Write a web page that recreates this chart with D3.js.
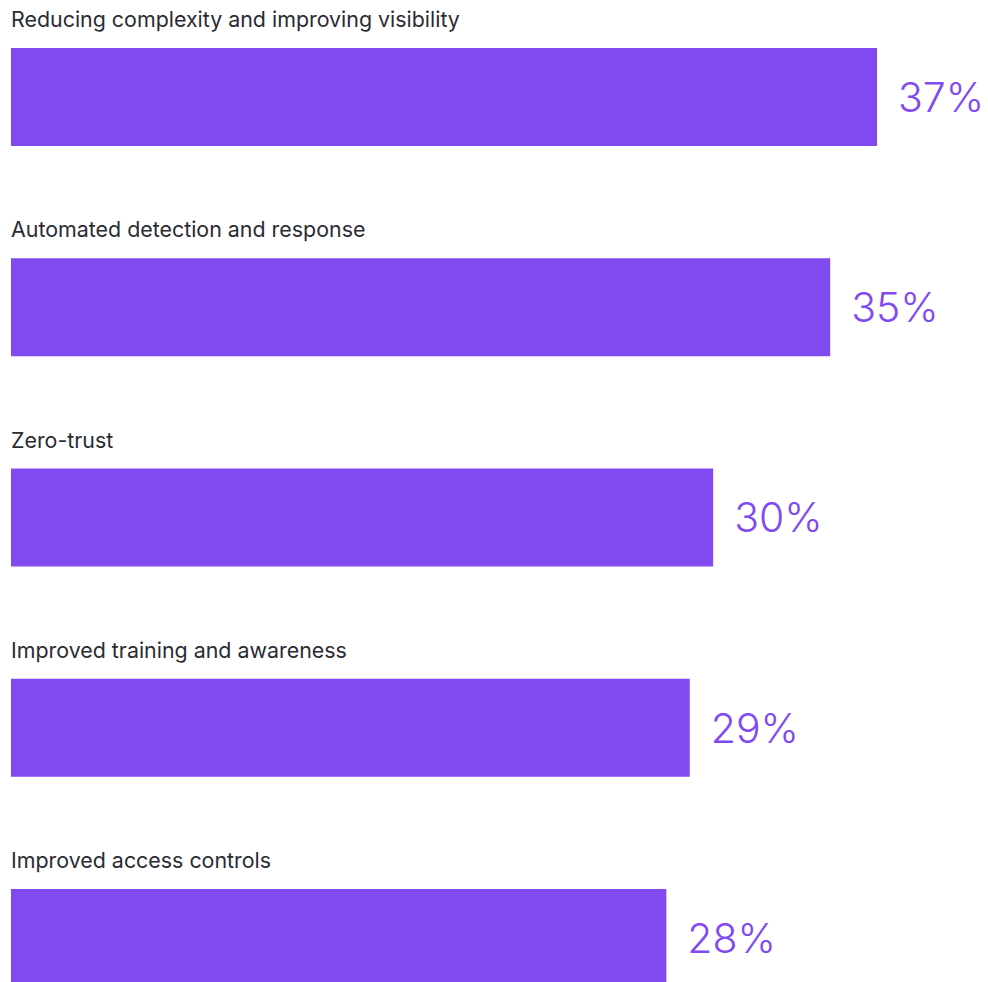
<!DOCTYPE html>
<html>
<head>
<meta charset="utf-8">
<script src="https://cdn.jsdelivr.net/npm/d3@7"></script>
<style>
  html, body { margin: 0; padding: 0; background: #ffffff; overflow: hidden; }
  svg { display: block; }
</style>
</head>
<body>
<div id="chart"></div>
<script>
// Security priorities, share of respondents (%)
const categories = [
  "Reducing complexity and improving visibility",
  "Automated detection and response",
  "Zero-trust",
  "Improved training and awareness",
  "Improved access controls"
];
const values = [37, 35, 30, 29, 28];

const width = 988, height = 982;
const barColor = "#814af0";
const labelColor = "#2b2b33";

const svg = d3.select("#chart").append("svg")
  .attr("width", width)
  .attr("height", height);

const left = 11;
const x = d3.scaleLinear().domain([0, 37]).range([left, 877]);

// row pitch 210.25px, bar thickness 98px
const pitch = 210.25, barH = 98;
const y = d3.scaleBand()
  .domain(categories)
  .range([48, 48 + pitch * (categories.length - 1) + barH])
  .paddingInner((pitch - barH) / pitch)
  .paddingOuter(0)
  .align(0);

const rows = svg.selectAll("g.row")
  .data(categories.map((c, i) => ({ category: c, value: values[i] })))
  .join("g")
  .attr("class", "row");

rows.append("rect")
  .attr("x", x(0))
  .attr("y", d => y(d.category))
  .attr("width", d => x(d.value) - x(0))
  .attr("height", y.bandwidth())
  .attr("fill", barColor);

rows.append("text")
  .attr("x", left)
  .attr("y", d => y(d.category) - 21)
  .attr("font-family", "Inter, 'Noto Sans', sans-serif")
  .attr("font-size", 21.4)
  .attr("fill", labelColor)
  .text(d => d.category);

rows.append("text")
  .attr("x", d => x(d.value) + 21)
  .attr("y", d => y(d.category) + y.bandwidth() / 2)
  .attr("dy", "0.36em")
  .attr("font-family", "Inter, 'Noto Sans', sans-serif")
  .attr("font-weight", 300)
  .attr("font-size", 41)
  .attr("fill", barColor)
  .text(d => d.value + "%");
</script>
</body>
</html>
